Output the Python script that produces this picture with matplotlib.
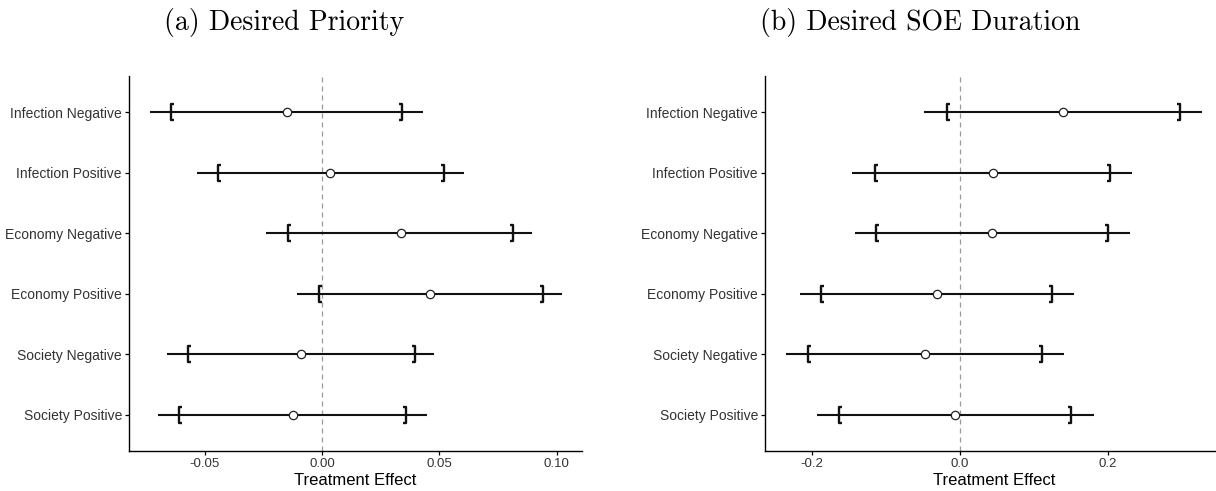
import numpy as np
import matplotlib
matplotlib.use("Agg")
import matplotlib.pyplot as plt
from matplotlib.path import Path
from matplotlib.ticker import FormatStrFormatter

plt.rcParams['font.family'] = ['Liberation Sans', 'DejaVu Sans']
plt.rcParams['axes.unicode_minus'] = False

# rows, listed top to bottom
categories = ["Infection Negative", "Infection Positive", "Economy Negative",
              "Economy Positive", "Society Negative", "Society Positive"]

# (a) Desired Priority
prio_est = [-0.015, 0.0035, 0.0335, 0.0462, -0.009, -0.0124]
prio_lo95 = [-0.0735, -0.0534, -0.0237, -0.0105, -0.066, -0.0697]
prio_hi95 = [0.0432, 0.0605, 0.0893, 0.1022, 0.0478, 0.0449]
prio_lo90 = [-0.0645, -0.0444, -0.0147, -0.0013, -0.0573, -0.0609]
prio_hi90 = [0.0342, 0.0521, 0.0812, 0.094, 0.0397, 0.0359]

# (b) Desired SOE Duration
dur_est = [0.140, 0.0445, 0.044, -0.031, -0.047, -0.006]
dur_lo95 = [-0.048, -0.145, -0.142, -0.216, -0.235, -0.193]
dur_hi95 = [0.328, 0.233, 0.230, 0.154, 0.141, 0.181]
dur_lo90 = [-0.0177, -0.115, -0.113, -0.187, -0.205, -0.163]
dur_hi90 = [0.298, 0.203, 0.201, 0.125, 0.111, 0.151]

# bracket markers for the inner interval
open_br = Path([(0.38, -1), (0, -1), (0, 1), (0.38, 1)],
               [Path.MOVETO, Path.LINETO, Path.LINETO, Path.LINETO])
close_br = Path([(-0.38, -1), (0, -1), (0, 1), (-0.38, 1)],
                [Path.MOVETO, Path.LINETO, Path.LINETO, Path.LINETO])

fig = plt.figure(figsize=(12.16, 4.91), dpi=100)
ax1 = fig.add_axes([0.106, 0.0815, 0.373, 0.7637])
ax2 = fig.add_axes([0.629, 0.0815, 0.377, 0.7637])


def draw_panel(ax, est, lo95, hi95, lo90, hi90, ticks, fmt):
    y = np.arange(len(categories), 0, -1)
    ax.axvline(0, color='#9a9a9a', lw=0.9, ls=(0, (4, 3.2)), zorder=1)
    ax.hlines(y, lo95, hi95, color='#111111', lw=1.5, zorder=2)
    ax.plot(lo90, y, ls='none', marker=open_br, ms=11.5, mew=1.7,
            mec='#111111', mfc='none', zorder=3)
    ax.plot(hi90, y, ls='none', marker=close_br, ms=11.5, mew=1.7,
            mec='#111111', mfc='none', zorder=3)
    ax.plot(est, y, ls='none', marker='o', ms=6, mfc='white',
            mec='#222222', mew=0.9, zorder=4)
    lo = min(lo95)
    hi = max(hi95)
    pad = (hi - lo) * 0.05
    ax.set_xlim(lo - pad, hi + pad)
    ax.set_ylim(0.4, len(categories) + 0.6)
    ax.set_yticks(y)
    ax.set_yticklabels(categories)
    ax.set_xticks(ticks)
    ax.xaxis.set_major_formatter(FormatStrFormatter(fmt))
    ax.spines['top'].set_visible(False)
    ax.spines['right'].set_visible(False)
    for s in ('left', 'bottom'):
        ax.spines[s].set_linewidth(1.0)
        ax.spines[s].set_color('black')
    ax.tick_params(axis='both', direction='out', length=3, width=0.9,
                   labelcolor='#333333', pad=2)
    ax.tick_params(axis='y', labelsize=10)
    ax.tick_params(axis='x', labelsize=9.5)
    ax.set_xlabel('Treatment Effect', fontsize=12, labelpad=2)


draw_panel(ax1, prio_est, prio_lo95, prio_hi95, prio_lo90, prio_hi90,
           [-0.05, 0.0, 0.05, 0.10], '%.2f')
draw_panel(ax2, dur_est, dur_lo95, dur_hi95, dur_lo90, dur_hi90,
           [-0.2, 0.0, 0.2], '%.1f')

fig.text(0.2332, 0.954, '(a) Desired Priority', family='cmr10',
         fontsize=20, ha='center', va='center')
fig.text(0.7566, 0.954, '(b) Desired SOE Duration', family='cmr10',
         fontsize=20, ha='center', va='center')

fig.savefig('out.png', dpi=100)
